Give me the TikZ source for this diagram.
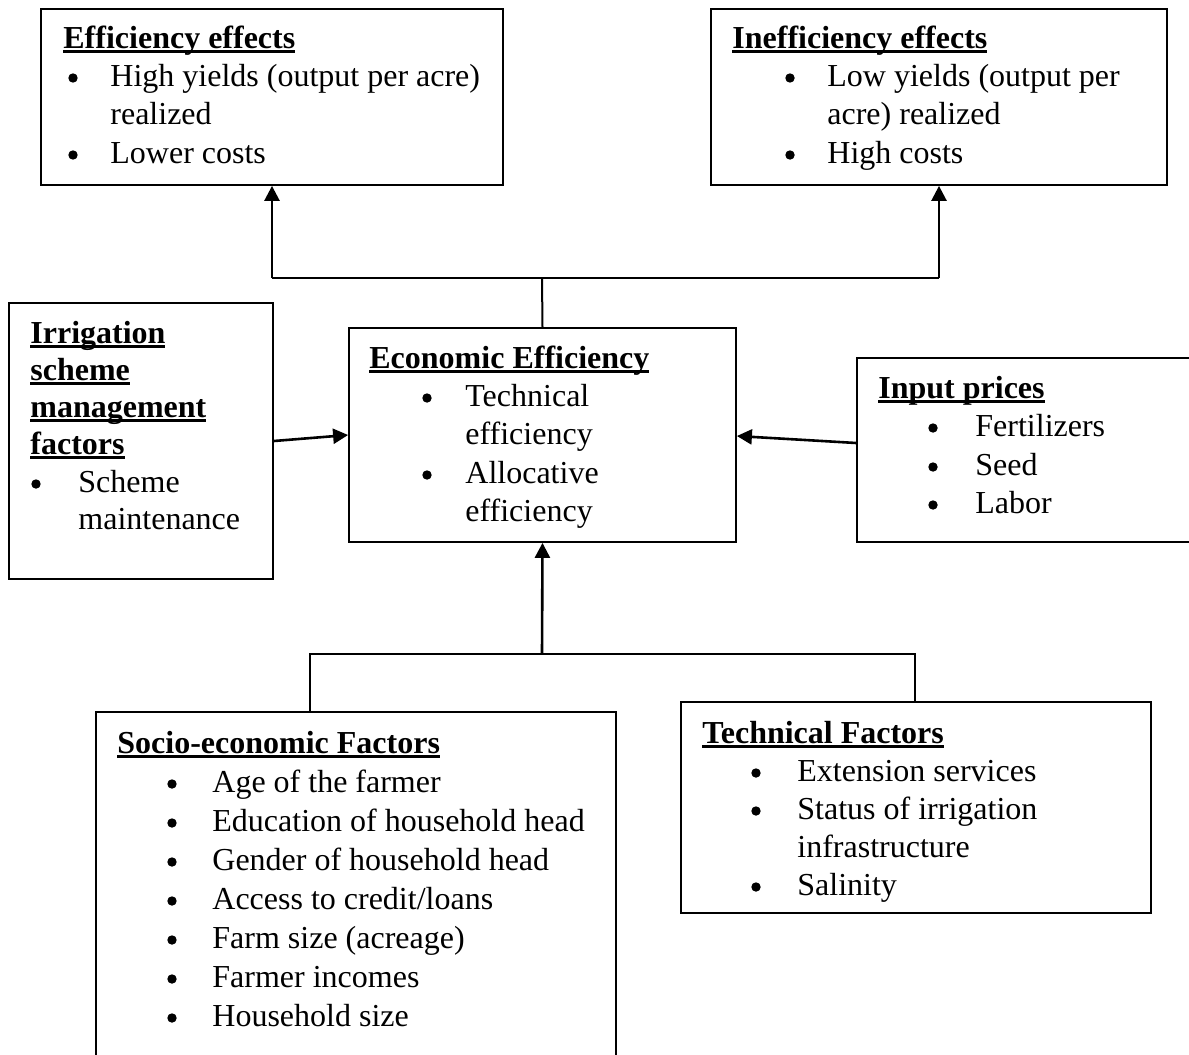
\documentclass[tikz,border=0pt]{standalone}
\usepackage{fontspec}
\setmainfont{Liberation Serif}
\usetikzlibrary{arrows.meta,fit}
\newcommand\ulb[1]{\setbox0\hbox{\bfseries #1}\rlap{\rule[-2.6pt]{\wd0}{1.5pt}}\box0}
\tikzset{
 box/.style={draw, line width=0.9pt, inner sep=0pt},
 txt/.style={inner sep=0pt, anchor=base west, font=\fontsize{16pt}{19pt}\selectfont},
 bul/.style={circle, fill, inner sep=0pt, minimum size=4.7pt},
 conn/.style={line width=1pt},
 arr/.style={line width=1.3pt, -{Triangle[length=7.5pt,width=7.5pt]}},
}
\newcommand\txtline[4]{\node[txt] (#1) at (#2,#3) {#4};}
\newcommand\bulnode[3]{\node[bul] (#1) at (#2,#3-8) {};}
\begin{document}
\begin{tikzpicture}[x=0.5pt,y=-0.5pt]
\useasboundingbox (0,0) rectangle (1189,1055);
% boxes
\node[box, fit={(41,9) (503,185)}] (eff) {};
\node[box, fit={(711,9) (1167,185)}] (ineff) {};
\node[box, fit={(9,303) (273,579)}] (irr) {};
\node[box, fit={(349,328) (736,542)}] (ee) {};
\node[box, fit={(857,358) (1200,542)}] (inp) {};
\node[box, fit={(96,712) (616,1100)}] (socio) {};
\node[box, fit={(681,702) (1151,913)}] (tech) {};
% Efficiency effects
\txtline{effT}{63}{48}{\ulb{Efficiency effects}}
\bulnode{effB1}{73}{86}
\txtline{eff1}{110}{86}{High yields (output per acre)}
\txtline{eff1b}{110}{124}{realized}
\bulnode{effB2}{73}{163}
\txtline{eff2}{110}{163}{Lower costs}
% Inefficiency effects
\txtline{inT}{732}{48}{\ulb{Inefficiency effects}}
\bulnode{inB1}{790}{86}
\txtline{in1}{827}{86}{Low yields (output per}
\txtline{in1b}{827}{124}{acre) realized}
\bulnode{inB2}{790}{163}
\txtline{in2}{827}{163}{High costs}
% Irrigation
\txtline{irT1}{30}{343}{\ulb{Irrigation}}
\txtline{irT2}{30}{380}{\ulb{scheme}}
\txtline{irT3}{30}{417}{\ulb{management}}
\txtline{irT4}{30}{454}{\ulb{factors}}
\bulnode{irB1}{36}{492}
\txtline{ir1}{78}{492}{Scheme}
\txtline{ir1b}{78}{529}{maintenance}
% Economic efficiency
\txtline{eeT}{369}{368}{\ulb{Economic Efficiency}}
\bulnode{eeB1}{427}{406}
\txtline{ee1}{465}{406}{Technical}
\txtline{ee1b}{465}{444}{efficiency}
\bulnode{eeB2}{427}{483}
\txtline{ee2}{465}{483}{Allocative}
\txtline{ee2b}{465}{521}{efficiency}
% Input prices
\txtline{ipT}{878}{398}{\ulb{Input prices}}
\bulnode{ipB1}{933}{436}
\txtline{ip1}{975}{436}{Fertilizers}
\bulnode{ipB2}{933}{475}
\txtline{ip2}{975}{475}{Seed}
\bulnode{ipB3}{933}{513}
\txtline{ip3}{975}{513}{Labor}
% Socio-economic
\txtline{soT}{117}{753}{\ulb{Socio-economic Factors}}
\bulnode{soB1}{172}{792}\txtline{so1}{212}{792}{Age of the farmer}
\bulnode{soB2}{172}{831}\txtline{so2}{212}{831}{Education of household head}
\bulnode{soB3}{172}{870}\txtline{so3}{212}{870}{Gender of household head}
\bulnode{soB4}{172}{909}\txtline{so4}{212}{909}{Access to credit/loans}
\bulnode{soB5}{172}{948}\txtline{so5}{212}{948}{Farm size (acreage)}
\bulnode{soB6}{172}{987}\txtline{so6}{212}{987}{Farmer incomes}
\bulnode{soB7}{172}{1026}\txtline{so7}{212}{1026}{Household size}
% Technical
\txtline{teT}{702}{743}{\ulb{Technical Factors}}
\bulnode{teB1}{756}{781}\txtline{te1}{797}{781}{Extension services}
\bulnode{teB2}{756}{819}\txtline{te2}{797}{819}{Status of irrigation}
\txtline{te2b}{797}{857}{infrastructure}
\bulnode{teB3}{756}{895}\txtline{te3}{797}{895}{Salinity}
% connectors top
\coordinate (jt) at (542,278);
\draw[conn] (ee.north) -- (jt);
\draw[conn] (eff.south |- jt) -- (ineff.south |- jt);
\draw[arr] (eff.south |- jt) -- (eff.south);
\draw[arr] (ineff.south |- jt) -- (ineff.south);
% connectors bottom
\coordinate (jb) at (542,654);
\coordinate (sj) at (310,654);
\coordinate (tj) at (915,654);
\draw[conn] (sj |- socio.north) -- (sj) -- (tj) -- (tj |- tech.north);
\draw[arr] (jb) -- (ee.south);
% side arrows
\draw[arr] (irr.east |- 0,441) -- (ee.west |- 0,435);
\draw[arr] (inp.west |- 0,443) -- (ee.east |- 0,436);
\end{tikzpicture}
\end{document}
